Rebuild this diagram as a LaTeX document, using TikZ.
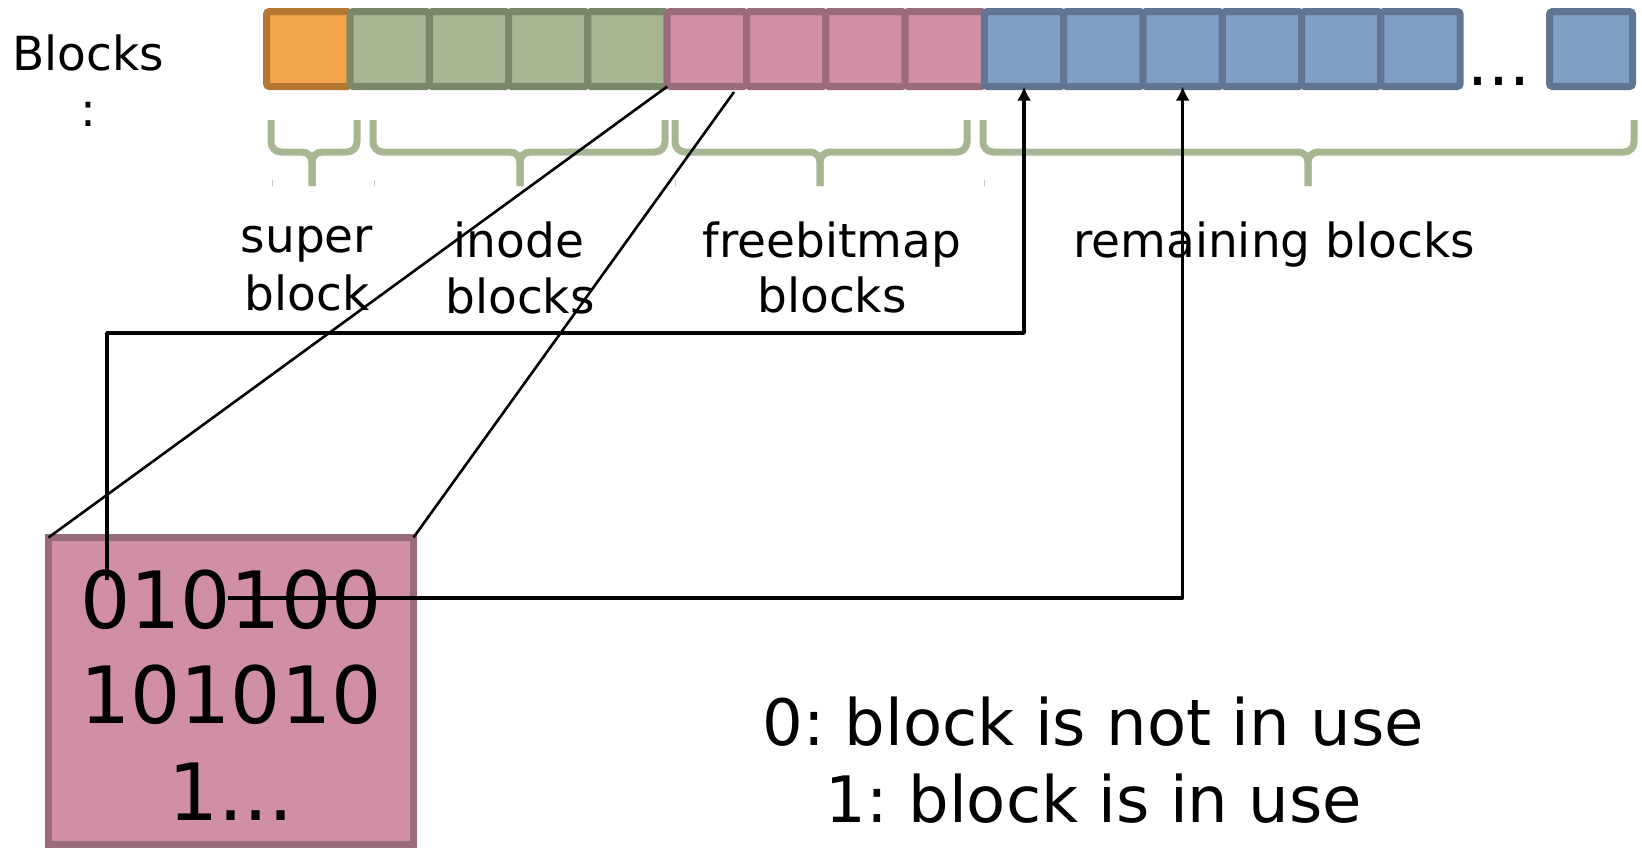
\documentclass[tikz,border=0pt]{standalone}
\usepackage{fontspec}
\setmainfont{DejaVu Sans}
\usetikzlibrary{arrows.meta,calc}
\frenchspacing
\definecolor{orF}{HTML}{F2A54A}
\definecolor{orD}{HTML}{B47730}
\definecolor{grF}{HTML}{A6B592}
\definecolor{grD}{HTML}{7B8769}
\definecolor{pkF}{HTML}{D08FA5}
\definecolor{pkD}{HTML}{9A6B7A}
\definecolor{blF}{HTML}{809FC4}
\definecolor{blD}{HTML}{5F7592}
\definecolor{brC}{HTML}{A6B592}
\definecolor{tickC}{HTML}{C8C8C8}
\begin{document}
\begin{tikzpicture}[x=0.5pt,y=-0.5pt,
  blk/.style={draw, line width=3.5pt, rounded corners=1.5pt, minimum width=39.65pt,
    minimum height=37.5pt, inner sep=0pt, outer sep=0pt},
  brc/.style={draw=brC, line width=3.5pt, rounded corners=5pt},
  tick/.style={draw=tickC, line width=0.5pt},
  lbl/.style={font=\fontsize{23.5pt}{28.2pt}\selectfont, anchor=base, inner sep=0pt},
  bits/.style={font=\fontsize{39.5pt}{47.4pt}\selectfont, anchor=base, inner sep=0pt},
  legend/.style={font=\fontsize{32pt}{38.4pt}\selectfont, anchor=base, inner sep=0pt},
  thinln/.style={draw=black, line width=1.3pt},
  arr/.style={draw=black, line width=1.75pt, line join=round, -{Latex[length=7pt,width=7pt]}}]
\useasboundingbox (0,0) rectangle (1642,848);

% blocks row
\node[blk, fill=orF, draw=orD, minimum width=41.75pt] (b0) at (308.25,49) {};
\foreach \i/\col in {1/gr,2/gr,3/gr,4/gr,5/pk,6/pk,7/pk,8/pk,9/bl,10/bl,11/bl,12/bl,13/bl,14/bl}
  \node[blk, fill=\col F, draw=\col D] (b\i) at ({310.35+79.3*\i},49) {};
\node[font=\fontsize{33pt}{39.6pt}\selectfont, anchor=base, inner sep=0pt] (dots) at (1499,85) {...};
\node[blk, fill=blF, draw=blD, minimum width=41.5pt] (bL) at (1591,49) {};

% row label
\node[lbl] (blocksA) at (88,70) {Blocks};
\node[lbl] (blocksB) at (88,126) {:};

% braces
\draw[brc] (271,120) -- (271,152) -- (312,152) -- (312,186);
\draw[brc] (357,120) -- (357,152) -- (312,152) -- (312,186);
\draw[brc] (373,120) -- (373,152) -- (520,152) -- (520,186);
\draw[brc] (665,120) -- (665,152) -- (520,152) -- (520,186);
\draw[brc] (675,120) -- (675,152) -- (820,152) -- (820,186);
\draw[brc] (967,120) -- (967,152) -- (820,152) -- (820,186);
\draw[brc] (983,120) -- (983,152) -- (1308,152) -- (1308,186);
\draw[brc] (1634,120) -- (1634,152) -- (1308,152) -- (1308,186);
\foreach \x in {272,374,675,984}
  \draw[tick] (\x,180) -- (\x,186);

% brace labels
\node[lbl] (superA) at (307,252) {super};
\node[lbl] (superB) at (307,310) {block};
\node[lbl] (inodeA) at (519,257) {inode};
\node[lbl] (inodeB) at (520,313) {blocks};
\node[lbl] (freeA) at (832,257) {freebitmap};
\node[lbl] (freeB) at (832,312) {blocks};
\node[lbl] (remain) at (1274,257) {remaining blocks};

% bitmap block
\node[draw=pkD, fill=pkF, line width=3.5pt, minimum width=182.5pt, minimum height=153.5pt,
  inner sep=0pt, outer sep=0pt] (bitmap) at (231,691) {};
\node[bits] (bitsA) at (231,628) {010100};
\node[bits] (bitsB) at (231,723) {101010};
\node[bits] (bitsC) at (231,820) {1...};

% legend
\node[legend] (legA) at (1093,745) {0: block is not in use};
\node[legend] (legB) at (1094,822) {1: block is in use};

% connectors
\coordinate (l2top) at (734,92);
\coordinate (a1s) at (107,580);
\coordinate (a1y) at (0,333);
\coordinate (a2s) at (228,598);
\draw[thinln] (b5.south west) -- (bitmap.north west);
\draw[thinln] (l2top) -- (bitmap.north east);
\draw[arr] (a1s) |- (b9.south |- a1y) -- (b9.south);
\draw[arr] (a2s) -| (b11.south);
\end{tikzpicture}
\end{document}
